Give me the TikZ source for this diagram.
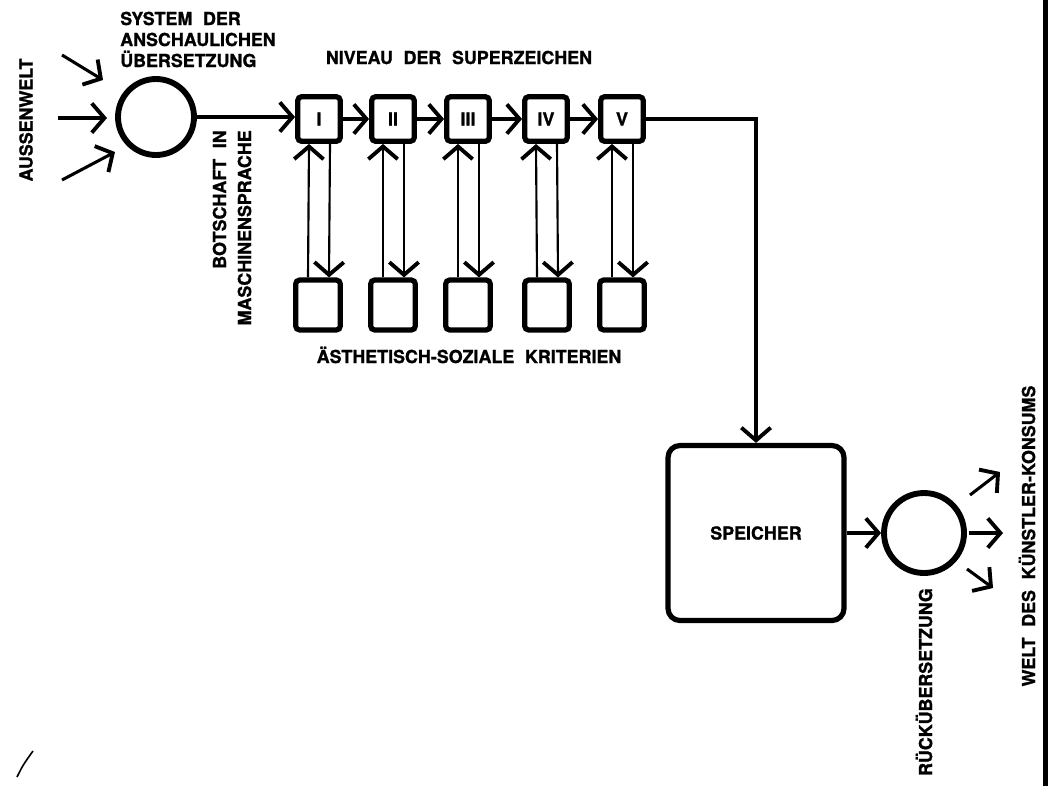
\documentclass[tikz,border=0pt]{standalone}
\usepackage{fontspec}
\setmainfont{TeX Gyre Heros}[BoldFeatures={FakeBold=1.2}]
\usetikzlibrary{arrows.meta,calc}
\newcommand\gap{\hspace{0.6em}}
\begin{document}
\begin{tikzpicture}[x=0.75pt,y=-0.75pt,
  txt/.style={font=\fontsize{13.4pt}{15.75pt}\selectfont\bfseries, inner sep=0pt},
  sqbox/.style={draw, line width=3.9pt, rounded corners=3pt, inner sep=0pt,
    font=\fontsize{13.4pt}{15.75pt}\selectfont\bfseries},
  topbox/.style={sqbox, minimum width=32pt, minimum height=33.5pt},
  lowbox/.style={sqbox, minimum width=33.5pt, minimum height=37.5pt},
  ring/.style={draw, circle, line width=4.4pt, inner sep=0pt},
  conn/.style={line width=2.3pt},
  vline/.style={line width=1.6pt},
  arr/.style={-{Straight Barb[length=9.5pt,width=22pt,line width=2.9pt]}},
]
\useasboundingbox (0,0) rectangle (1048,786);

% main nodes
\node[ring, minimum size=57pt] (c1) at (156,117) {};
\node[topbox] (b1) at (319,119) {I};
\node[topbox] (b2) at (393,119) {II};
\node[topbox] (b3) at (468,119) {III};
\node[topbox] (b4) at (546,119) {IV};
\node[topbox] (b5) at (622,119) {V};
\node[lowbox] (k1) at (318,305) {};
\node[lowbox] (k2) at (393,305) {};
\node[lowbox] (k3) at (468,305) {};
\node[lowbox] (k4) at (547,305) {};
\node[lowbox] (k5) at (622,305) {};
\node[draw, line width=3.9pt, rounded corners=9pt, minimum width=132pt,
  minimum height=131.25pt, txt] (sp) at (756,533) {SPEICHER};
\node[ring, minimum size=60pt] (c2) at (924,533) {};

% input arrows
\coordinate (i1s) at (62,55);  \coordinate (i1e) at (103,80);
\coordinate (i2s) at (58,118); \coordinate (i2e) at (107,118);
\coordinate (i3s) at (62,180); \coordinate (i3e) at (115,152);
\draw[conn,arr] (i1s) -- (i1e);
\draw[conn,arr] (i2s) -- (i2e);
\draw[conn,arr] (i3s) -- (i3e);

% output arrows
\coordinate (o1s) at (970,495); \coordinate (o1e) at (1000,472);
\coordinate (o2s) at (969,533); \coordinate (o2e) at (1003,533);
\coordinate (o3s) at (967,569); \coordinate (o3e) at (993,588);
\draw[conn,arr] (o1s) -- (o1e);
\draw[conn,arr] (o2s) -- (o2e);
\draw[conn,arr] (o3s) -- (o3e);

% chain
\draw[conn,arr] (c1.east) -- (c1.east -| b1.west);
\draw[conn,arr] (b1.east) -- (b2.west);
\draw[conn,arr] (b2.east) -- (b3.west);
\draw[conn,arr] (b3.east) -- (b4.west);
\draw[conn,arr] (b4.east) -- (b5.west);
\draw[conn,arr] (b5.east) -| (sp.north);
\draw[conn,arr] (sp.east) -- (c2.west);

% vertical pairs
\foreach \t/\k in {b1/k1,b2/k2,b3/k3,b4/k4,b5/k5}{
  \draw[vline,arr] ($(\k.north)+(-10,0)$) -- ($(\t.south)+(-10,0)$);
  \draw[vline,arr] ($(\t.south)+(11,0)$) -- ($(\k.north)+(11,0)$);
}

% labels
\node[txt, rotate=90] (aw) at (26,120) {AUSSENWELT};
\node[txt, anchor=base west] (t1) at (120,25) {SYSTEM\gap DER};
\node[txt, anchor=base west] (t2) at (120,46) {ANSCHAULICHEN};
\node[txt, anchor=base west] (t3) at (120,67) {ÜBERSETZUNG};
\node[txt, anchor=base] (niv) at (459,64) {NIVEAU\gap DER\gap SUPERZEICHEN};
\node[txt, anchor=base] (kri) at (469,363) {ÄSTHETISCH-SOZIALE\gap KRITERIEN};
\node[txt, rotate=90, anchor=east, align=right] (bot) at (232,130)
  {BOTSCHAFT\gap IN\\[3pt]MASCHINENSPRACHE};
\node[txt, rotate=90] (rue) at (924,682) {RÜCKÜBERSETZUNG};
\node[txt, rotate=90] (welt) at (1027,536) {WELT\gap DES\gap KÜNSTLER-KONSUMS};

% scan marks
\fill (1043,0) rectangle (1048,786);
\draw[line width=1.2pt] (17,777) .. controls (23,765) .. (33,751);
\end{tikzpicture}
\end{document}
